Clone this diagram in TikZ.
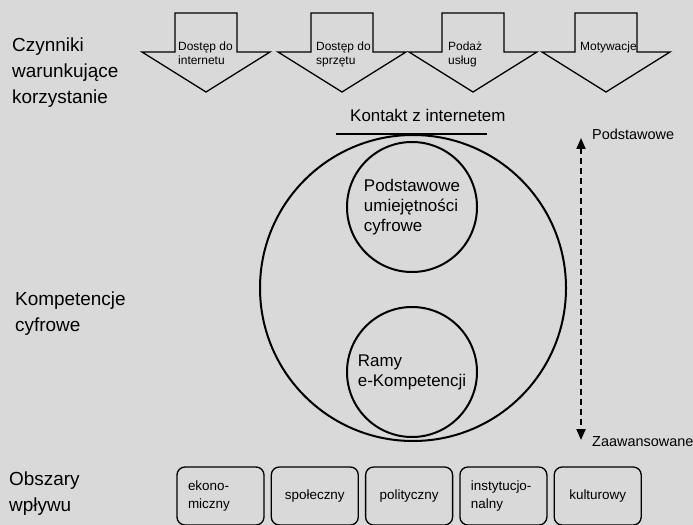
\documentclass[tikz,border=0pt]{standalone}
\usepackage{fontspec}
\setmainfont{Liberation Sans}
\usepackage{tikz}
\usetikzlibrary{positioning, arrows.meta}
\definecolor{bggray}{HTML}{D9D9D9}

\tikzset{
  sidelabel/.style={anchor=north west, inner sep=0pt, align=left, font=\fontsize{19}{26}\selectfont},
  factor/.style={draw, line width=1.3bp},
  factortext/.style={anchor=north west, inner sep=0pt, align=left, font=\fontsize{12}{14}\selectfont},
  ring/.style={draw, circle, line width=2bp, inner sep=0pt, align=left, font=\fontsize{17}{20}\selectfont},
  levellabel/.style={anchor=north west, inner sep=0pt, font=\fontsize{14.5}{17}\selectfont},
  impact/.style={draw, rounded corners=8bp, line width=1.3bp, minimum width=87bp, minimum height=58bp,
    text width=65bp, inner xsep=11bp, align=center, font=\fontsize{13.5}{19}\selectfont},
}

\begin{document}
\begin{tikzpicture}[x=1bp, y=-1bp]
        \fill[bggray] (0,0) rectangle (693,525);
        \useasboundingbox (0,0) rectangle (693,525);
        % Row labels
        \node[sidelabel] (factors) at (12,38) {Czynniki\\warunkujące\\korzystanie};
        \node[sidelabel] (skills) at (15,292) {Kompetencje\\cyfrowe};
        \node[sidelabel] (areas) at (9,472) {Obszary\\wpływu};
        % Down arrows
        \foreach \cx in {206,342,473,606}
            \draw[factor] (\cx-31,13) -- (\cx+31,13) -- (\cx+31,52) -- (\cx+64,52)
                -- (\cx,92) -- (\cx-64,52) -- (\cx-31,52) -- cycle;
        \node[factortext] (netaccess) at (178,42) {Dostęp do\\internetu};
        \node[factortext] (hardware) at (316,42) {Dostęp do\\sprzętu};
        \node[factortext] (services) at (448,42) {Podaż\\usług};
        \node[factortext] (motivation) at (580,42) {Motywacje};
        % Circles
        \node[font=\fontsize{17}{20}\selectfont, anchor=north west, inner sep=0pt] (contact) at (350,109) {Kontakt z internetem};
        \draw[line width=2bp] (336,134) -- (487,134);
        \node[ring, minimum size=306bp] (outer) at (413,288) {};
        \node[ring, minimum size=130bp] (basic) at (412,207) {Podstawowe\\umiejętności\\cyfrowe};
        \node[ring, minimum size=130bp] (ecf) at (412,372) {Ramy\\e-Kompetencji};
        % Level scale
        \node[levellabel] (lvltop) at (592,129) {Podstawowe};
        \node[levellabel] (lvlbottom) at (592,436) {Zaawansowane};
        \coordinate (scaletop) at (581,138);
        \coordinate (scalebottom) at (581,440);
        \draw[line width=2bp, dash pattern=on 6bp off 4bp,
            {Triangle[width=9bp,length=11bp]}-{Triangle[width=9bp,length=11bp]}] (scaletop) -- (scalebottom);
        % Impact areas
        \node[impact, align=left] (economic) at (220.5,496) {ekono-\\miczny};
        \node[impact, right=6bp of economic] (social) {społeczny};
        \node[impact, right=6bp of social] (political) {polityczny};
        \node[impact, align=left, right=6bp of political] (institutional) {instytucjo-\\nalny};
        \node[impact, right=6bp of institutional] (cultural) {kulturowy};
    \end{tikzpicture}
\end{document}
